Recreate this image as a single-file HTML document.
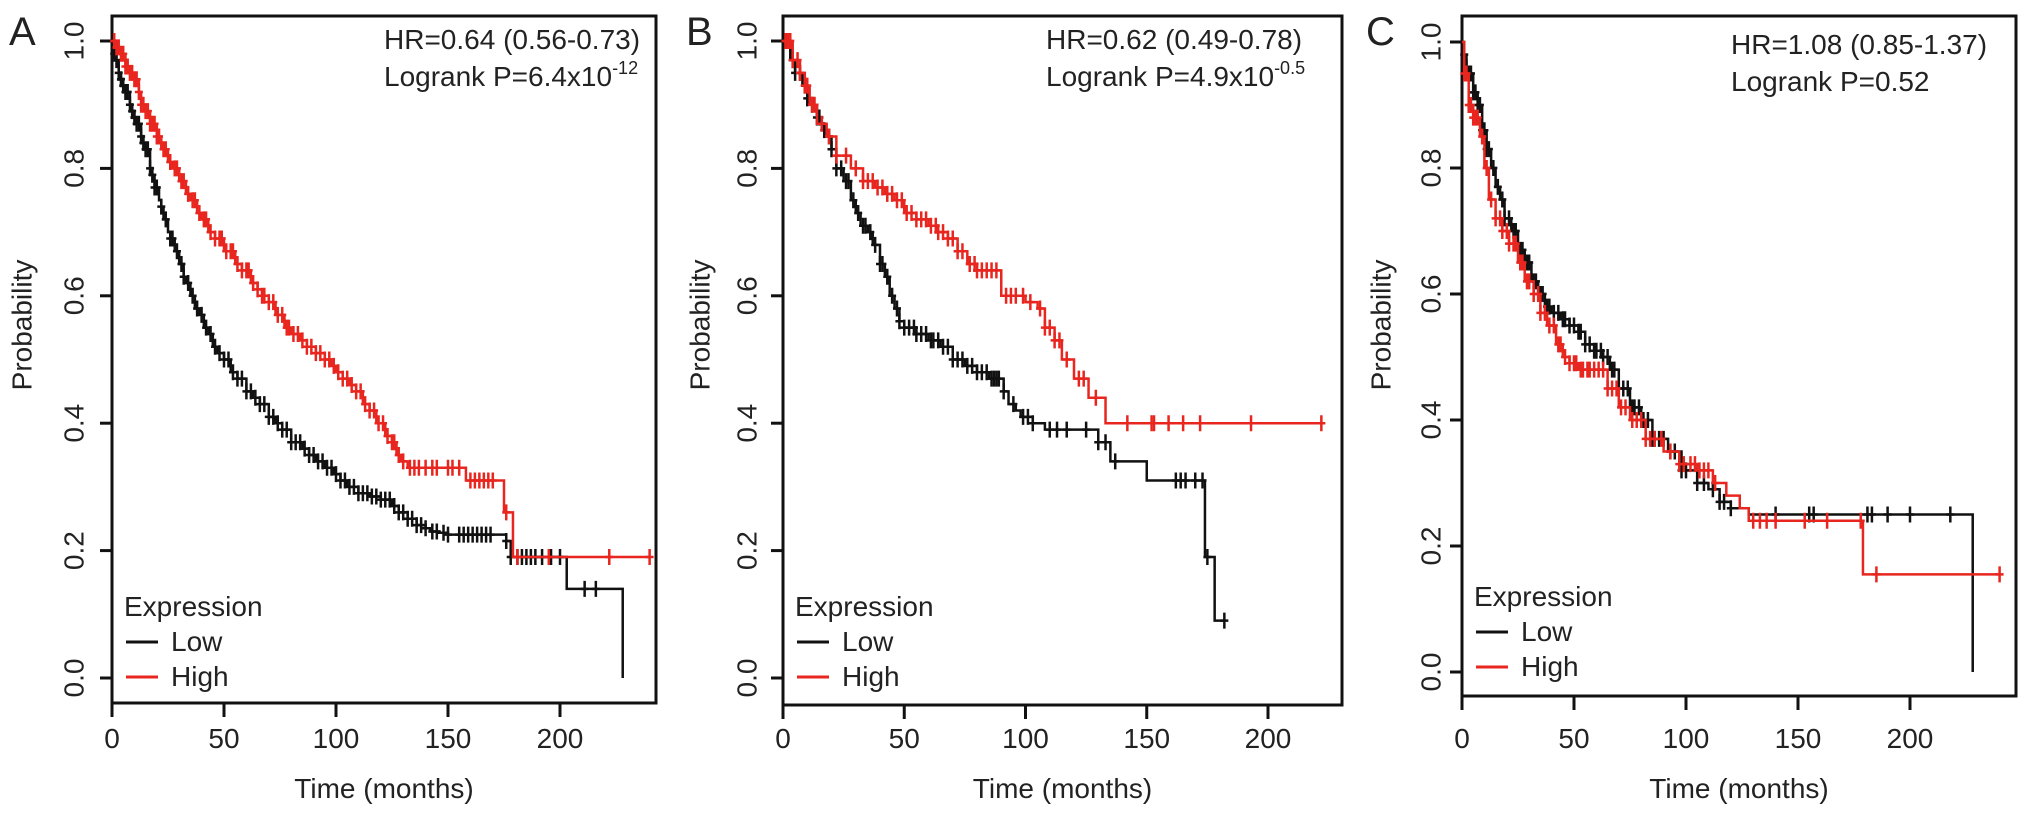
<!DOCTYPE html>
<html><head><meta charset="utf-8"><style>
html,body{margin:0;padding:0;background:#fff;}
svg{display:block;font-family:"Liberation Sans",Arial,sans-serif;}
</style></head><body>
<svg id="fig" width="2031" height="816" viewBox="0 0 2031 816"></svg>
<script>
// ---- Panel A data ----
const aLowT = [0,1,2,3,4,5,6,8,9,10,11,13,14,15,17,18,19,21,22,23,25,26,28,30,32,33,35,37,39,41,43,45,47,50,53,56,60,63,66,70,73,76,80,85,88,91,95,99,102,105,110,115,120,125,128,132,136,140,142,146,150,176,178,203,228];
const aLowS = [1,0.98,0.97,0.95,0.94,0.93,0.92,0.9,0.89,0.88,0.87,0.85,0.84,0.83,0.8,0.79,0.77,0.75,0.74,0.72,0.7,0.69,0.67,0.65,0.63,0.62,0.6,0.58,0.57,0.55,0.54,0.52,0.51,0.5,0.48,0.47,0.45,0.44,0.43,0.41,0.4,0.39,0.37,0.36,0.35,0.34,0.33,0.32,0.31,0.3,0.29,0.285,0.28,0.27,0.26,0.25,0.24,0.235,0.23,0.228,0.225,0.215,0.19,0.14,0];
const aHighT = [0,2,4,6,8,10,12,13,15,17,20,22,25,27,30,33,35,38,40,43,46,50,55,58,62,65,67,70,73,77,80,84,87,91,95,98,100,103,106,109,112,115,118,122,125,127,129,132,158,175,179,240];
const aHighS = [1,0.99,0.98,0.96,0.95,0.94,0.92,0.9,0.89,0.87,0.85,0.83,0.81,0.8,0.78,0.76,0.75,0.73,0.72,0.7,0.69,0.67,0.65,0.64,0.62,0.61,0.6,0.59,0.57,0.55,0.54,0.53,0.52,0.51,0.5,0.49,0.48,0.47,0.46,0.45,0.43,0.42,0.4,0.38,0.37,0.35,0.34,0.33,0.31,0.26,0.19,0.19];
const aLowCens = [1,2,3,4,5,6,7,8,9,10,11,12,13,14,15,16,17,18,19,20,22,24,26,27,29,31,32,34,36,38,40,42,44,46,48,50,52,54,56,58,60,62,64,66,68,70,72,74,76,78,80,82,84,86,88,90,92,94,96,98,100,102,104,106,108,110,112,114,116,118,120,122,124,126,128,130,132,134,136,138,140,143,145,148,150,155,157,159,161,163,165,167,169,176,178,181,183,185,187,189,192,196,200,211,216];
const aHighCens = [1,2,3,4,5,6,7,8,9,10,11,12,13,14,15,16,17,18,19,20,21,23,24,26,28,29,31,32,34,36,37,39,41,42,44,46,48,49,51,53,54,56,58,60,61,63,65,67,68,70,72,74,76,78,79,81,83,85,87,89,91,93,95,97,99,101,103,105,107,109,111,113,115,117,119,121,123,125,126,128,130,133,135,137,140,143,145,150,152,155,160,162,164,166,168,170,176,181,195,222,240];
// ---- Panel B data ----
const bLowT = [0,3,5,8,10,12,14,16,18,20,22,25,28,30,32,35,37,40,42,44,46,48,50,55,60,65,70,75,80,85,88,91,93,96,98,103,108,130,135,150,174,178,182];
const bLowS = [1,0.97,0.95,0.93,0.91,0.9,0.88,0.86,0.85,0.83,0.8,0.78,0.75,0.73,0.71,0.7,0.68,0.65,0.63,0.6,0.58,0.56,0.55,0.54,0.53,0.52,0.5,0.49,0.48,0.47,0.47,0.45,0.43,0.42,0.41,0.4,0.39,0.37,0.34,0.31,0.19,0.09,0.09];
const bHighT = [0,4,7,9,11,14,18,22,28,33,38,42,46,50,55,60,64,68,72,76,80,88,90,95,100,105,108,112,115,120,126,133,222];
const bHighS = [1,0.97,0.95,0.93,0.9,0.87,0.85,0.82,0.8,0.78,0.77,0.76,0.75,0.73,0.72,0.71,0.7,0.69,0.67,0.65,0.64,0.64,0.6,0.6,0.59,0.58,0.55,0.53,0.5,0.47,0.44,0.4,0.4];
const bLowCens = [1,2,4,5,7,9,10,12,14,15,17,19,20,22,24,26,27,29,31,33,34,36,38,40,41,43,45,47,48,50,52,54,55,57,59,61,62,64,66,68,70,72,74,76,78,80,82,84,86,87,88,89,91,95,99,101,103,110,113,117,125,130,133,137,162,164,166,170,173,175,182];
const bHighCens = [1,2,3,4,6,7,9,10,12,13,16,19,22,26,30,33,35,37,39,41,43,45,47,49,51,53,55,57,59,61,63,64,66,68,70,72,74,77,79,80,82,84,86,88,92,94,96,99,102,106,108,110,112,114,117,122,124,129,142,152,153,159,165,172,193,222];
// ---- Panel C data ----
const cLowT = [0,1,2,3,5,7,9,11,13,15,17,19,22,25,28,31,34,37,40,44,48,52,55,59,63,66,70,75,80,85,92,98,105,110,115,120,128,228];
const cLowS = [1,0.98,0.96,0.95,0.92,0.9,0.86,0.83,0.8,0.77,0.75,0.72,0.7,0.67,0.65,0.62,0.6,0.58,0.57,0.56,0.55,0.54,0.52,0.51,0.5,0.48,0.45,0.42,0.4,0.37,0.35,0.32,0.3,0.29,0.27,0.26,0.25,0];
const cHighT = [0,1,3,5,8,10,12,15,18,21,25,28,32,35,38,42,45,48,52,60,65,70,75,82,90,97,105,112,118,124,128,179,240];
const cHighS = [1,0.95,0.9,0.88,0.85,0.8,0.75,0.72,0.7,0.68,0.65,0.62,0.6,0.57,0.55,0.52,0.5,0.49,0.48,0.48,0.45,0.42,0.4,0.37,0.35,0.33,0.32,0.3,0.28,0.26,0.24,0.155,0.155];
const cLowCens = [1,2,3,4,5,6,7,8,9,10,11,12,14,16,18,19,21,23,24,26,27,29,30,32,33,35,36,38,39,41,43,45,46,48,50,52,53,55,57,59,60,62,63,65,67,68,70,72,74,76,77,79,81,83,85,86,88,90,93,95,98,100,105,108,112,115,117,120,140,155,157,181,183,190,200,218];
const cHighCens = [1,2,3,4,5,6,7,9,11,13,15,17,18,20,21,23,24,26,27,29,30,32,34,35,37,39,41,43,44,46,48,50,51,53,54,56,57,59,61,63,65,67,69,71,73,76,78,80,82,84,86,89,93,97,99,102,104,106,108,110,113,130,133,136,140,153,163,178,185,240];
const yTicks = ["0.0","0.2","0.4","0.6","0.8","1.0"];
const xTicks = [0,50,100,150,200];

const NS='http://www.w3.org/2000/svg';
const svg=document.getElementById('fig');
function mk(tag,attrs,parent){const e=document.createElementNS(NS,tag);for(const k in attrs)e.setAttribute(k,attrs[k]);(parent||svg).appendChild(e);return e;}
function stepAt(T,S,t){let v=S[0];for(let i=0;i<T.length;i++){if(T[i]<=t)v=S[i];else break;}return v;}

function panel(p){
  const g=mk('g',{});
  
  
  const X=t=>p.x0+t*p.ppm, Y=s=>p.y0-s*(p.y0-p.y1);
  const box=mk('rect',{x:p.bl,y:p.bt,width:p.br-p.bl,height:p.bb-p.bt,fill:'none',stroke:'#111','stroke-width':3},g);
  
  yTicks.forEach(l=>{const v=parseFloat(l),y=Y(v);
    const tk=mk('line',{x1:p.bl-12,x2:p.bl,y1:y,y2:y,stroke:'#111','stroke-width':3},g);
    
    const tx=mk('text',{x:p.ylx,y:y,'font-size':28,'text-anchor':'middle','dominant-baseline':'central',fill:'#222',transform:`rotate(-90 ${p.ylx} ${y})`},g);
    tx.textContent=l;});
  xTicks.forEach(v=>{const x=X(v);
    const tk=mk('line',{x1:x,x2:x,y1:p.bb,y2:p.bb+14,stroke:'#111','stroke-width':3},g);
    
    const tx=mk('text',{x:x,y:748,'font-size':28,'text-anchor':'middle',fill:'#222'},g);
    tx.textContent=v;});
  const xt=mk('text',{x:(p.bl+p.br)/2,y:798,'font-size':28,'text-anchor':'middle',fill:'#222'},g);
  xt.textContent='Time (months)';
  const yt=mk('text',{x:p.ptx,y:325,'font-size':28,'text-anchor':'middle','dominant-baseline':'central',fill:'#222',transform:`rotate(-90 ${p.ptx} 325)`},g);
  yt.textContent='Probability';
  const lt=mk('text',{x:p.lx,y:45,'font-size':40,fill:'#222'},g);
  lt.textContent=p.id;
  const h1=mk('text',{x:p.tx,y:p.ty,'font-size':28,fill:'#222'},g);
  h1.textContent=p.hr;
  const h2=mk('text',{x:p.tx,y:p.ty+37,'font-size':28,fill:'#222'},g);
  
  h2.textContent=p.p1;
  if(p.sup){const ts=mk('tspan',{'font-size':18,dy:-12},h2);ts.textContent=p.sup;}
  const lg=mk('g',{},g);
  const le=mk('text',{x:p.bl+12,y:p.legY,'font-size':28,fill:'#222'},lg);le.textContent='Expression';
  
  [['Low','#111'],['High','#e8261f']].forEach((d,i)=>{const yy=p.legY+35*(i+1);
    const ln=mk('line',{x1:p.bl+14,x2:p.bl+46,y1:yy-9,y2:yy-9,stroke:d[1],'stroke-width':3},lg);
    
    const t=mk('text',{x:p.bl+59,y:yy,'font-size':28,fill:'#222'},lg);t.textContent=d[0];
    });
  [[p.lowT,p.lowS,p.lowC,'#111','low'],[p.highT,p.highS,p.highC,'#e8261f','high']].forEach(s=>{
    const [T,S,C,col,nm]=s;
    let d=`M${X(T[0])},${Y(S[0])}`;
    for(let i=1;i<T.length;i++){d+=` H${X(T[i])} V${Y(S[i])}`;}
    const path=mk('path',{d:d,fill:'none',stroke:col,'stroke-width':2.5},g);
    
    C.forEach(t=>{const y=Y(stepAt(T,S,t)),x=X(t);
      const c=mk('path',{d:`M${x},${y-8} V${y+8} M${x-4},${y} H${x+4}`,stroke:col,'stroke-width':2.5,fill:'none'},g);
      });
  });
}
panel({id:'A',bl:112,br:656,bt:16,bb:703,x0:112,ppm:2.24,y0:678,y1:41,ylx:74,ptx:22,lx:9,tx:384,ty:49,legY:616,
  hr:'HR=0.64 (0.56-0.73)',p1:'Logrank  P=6.4x10',sup:'-12',lowT:aLowT,lowS:aLowS,lowC:aLowCens,highT:aHighT,highS:aHighS,highC:aHighCens});
panel({id:'B',bl:783,br:1342,bt:16,bb:705,x0:783,ppm:2.425,y0:678,y1:41,ylx:747,ptx:700,lx:686,tx:1046,ty:49,legY:616,
  hr:'HR=0.62 (0.49-0.78)',p1:'Logrank  P=4.9x10',sup:'-0.5',lowT:bLowT,lowS:bLowS,lowC:bLowCens,highT:bHighT,highS:bHighS,highC:bHighCens});
panel({id:'C',bl:1462,br:2016,bt:16,bb:696,x0:1462,ppm:2.24,y0:672,y1:42,ylx:1431,ptx:1381,lx:1366,tx:1731,ty:54,legY:606,
  hr:'HR=1.08 (0.85-1.37)',p1:'Logrank P=0.52',sup:'',lowT:cLowT,lowS:cLowS,lowC:cLowCens,highT:cHighT,highS:cHighS,highC:cHighCens});
</script>
</body></html>
